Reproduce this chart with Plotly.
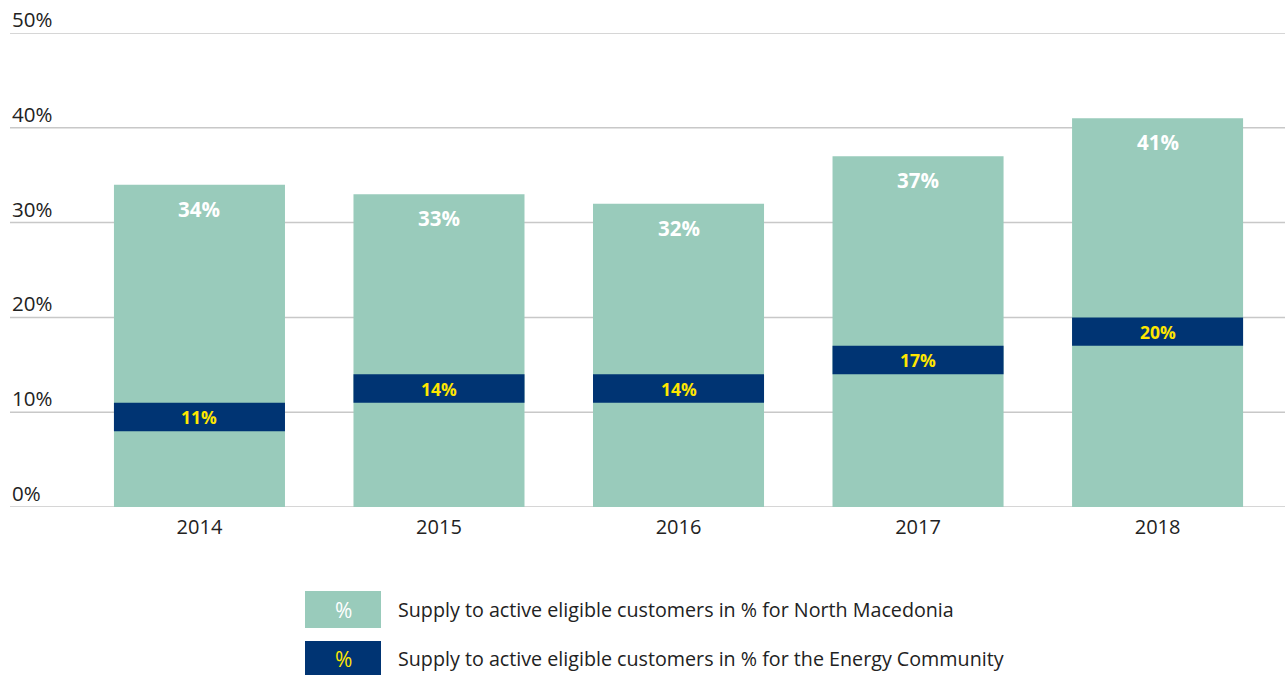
import plotly.graph_objects as go

years = ["2014", "2015", "2016", "2017", "2018"]
north_macedonia = [34, 33, 32, 37, 41]
energy_community = [11, 14, 14, 17, 20]
y_ticks = [0, 10, 20, 30, 40, 50]
legend_labels = [
    "Supply to active eligible customers in % for North Macedonia",
    "Supply to active eligible customers in % for the Energy Community",
]

GREEN = "#99cbbb"
NAVY = "#003473"
YELLOW = "#ffe600"
GRID = "#c8c8c8"
TEXT = "#222222"
FONT = "Open Sans"
BAND = 3  # thickness of the Energy Community marker band, in %

W, H = 1285, 675
L, R, T, B = 10, 0, 33, 168
PW, PH = W - L - R, H - T - B


def px(x):
    return (x - L) / PW


def py(y):
    return (H - B - y) / PH


xpos = list(range(len(years)))

fig = go.Figure()
fig.add_trace(go.Bar(
    x=xpos, y=north_macedonia, base=0, width=0.714,
    marker=dict(color=GREEN, line=dict(width=0)), hoverinfo="skip",
))
fig.add_trace(go.Bar(
    x=xpos, y=[BAND] * len(years), base=[v - BAND for v in energy_community],
    width=0.714, marker=dict(color=NAVY, line=dict(width=0)), hoverinfo="skip",
))

annotations = []
shapes = []

# horizontal gridlines with their labels sitting above, left-aligned
for t in y_ticks:
    shapes.append(dict(
        type="line", xref="paper", yref="y", x0=0, x1=1, y0=t, y1=t,
        line=dict(color=GRID, width=1.5), layer="below",
    ))
    annotations.append(dict(
        xref="paper", x=0, y=t, yshift=-2, text=f"{t}%", showarrow=False,
        font=dict(family=FONT, size=20.5, color=TEXT), xanchor="left", yanchor="bottom",
    ))

for i, (g, e) in enumerate(zip(north_macedonia, energy_community)):
    annotations.append(dict(
        x=i, y=g, yshift=-24, text=f"<b>{g}%</b>", showarrow=False,
        font=dict(family=FONT, size=20.5, color="white"), xanchor="center", yanchor="middle",
    ))
    annotations.append(dict(
        x=i, y=e - BAND / 2, text=f"<b>{e}%</b>", showarrow=False,
        font=dict(family=FONT, size=17.5, color=YELLOW), xanchor="center", yanchor="middle",
    ))

legend_rows = [(591, 628, GREEN, "white"), (641, 676, NAVY, YELLOW)]
for (y0, y1, fill, txt), label in zip(legend_rows, legend_labels):
    shapes.append(dict(
        type="rect", xref="paper", yref="paper",
        x0=px(305), x1=px(381), y0=py(y1), y1=py(y0),
        fillcolor=fill, line=dict(width=0),
    ))
    annotations.append(dict(
        xref="paper", yref="paper", x=px(343), y=py((y0 + y1) / 2), text="%",
        showarrow=False, font=dict(family=FONT, size=21, color=txt),
        xanchor="center", yanchor="middle",
    ))
    annotations.append(dict(
        xref="paper", yref="paper", x=px(396), y=py((y0 + y1) / 2), text=label,
        showarrow=False, font=dict(family=FONT, size=19.7, color=TEXT),
        xanchor="left", yanchor="middle",
    ))

fig.update_layout(
    width=W, height=H, margin=dict(l=L, r=R, t=T, b=B),
    paper_bgcolor="white", plot_bgcolor="white",
    barmode="overlay", showlegend=False,
    annotations=annotations, shapes=shapes,
    font=dict(family=FONT, color=TEXT),
    xaxis=dict(
        range=[-0.791, 4.532], tickmode="array", tickvals=xpos, ticktext=years,
        showgrid=False, zeroline=False, showline=False, ticks="",
        ticklabelstandoff=6,
        tickfont=dict(family=FONT, size=20, color=TEXT), fixedrange=True,
    ),
    yaxis=dict(
        range=[0, 50], showticklabels=False,
        showgrid=False, zeroline=False, showline=False, fixedrange=True,
    ),
)
fig.write_html("out.html", config={"displayModeBar": False})
